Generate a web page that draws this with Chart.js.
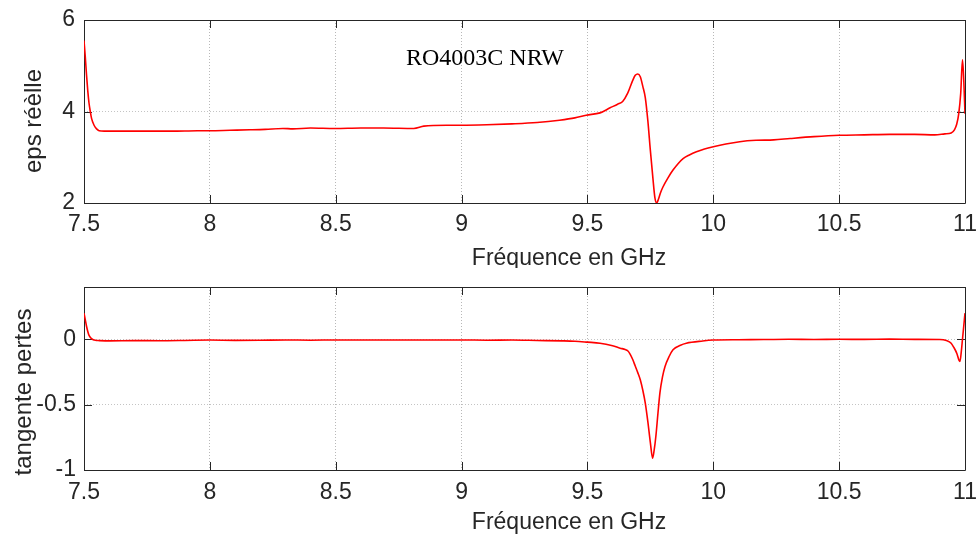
<!DOCTYPE html>
<html><head><meta charset="utf-8">
<script src="https://cdn.jsdelivr.net/npm/chart.js@4.4.1/dist/chart.umd.min.js"></script>
<style>
html,body{margin:0;padding:0;background:#fff;overflow:hidden;width:977px;height:536px}
canvas{display:block;position:absolute;left:0}
</style></head><body>
<canvas id="c1" width="977" height="268" style="top:0px"></canvas>
<canvas id="c2" width="977" height="268" style="top:268px"></canvas>
<script>
// ---- data ----
const freqEps = [7.500,7.505,7.510,7.515,7.520,7.525,7.530,7.540,7.550,7.560,7.580,7.620,7.700,7.760,7.850,7.950,8.000,8.080,8.160,8.220,8.290,8.330,8.400,8.497,8.600,8.690,8.810,8.850,8.940,9.000,9.100,9.200,9.300,9.389,9.450,9.495,9.550,9.590,9.620,9.640,9.660,9.680,9.690,9.700,9.710,9.720,9.730,9.740,9.750,9.760,9.768,9.775,9.782,9.790,9.800,9.820,9.840,9.860,9.880,9.905,9.933,9.965,10.000,10.050,10.105,10.170,10.240,10.305,10.400,10.500,10.600,10.700,10.800,10.880,10.920,10.945,10.958,10.967,10.975,10.983,10.990,10.995,11.000];
const epsReal = [5.55,5.20,4.80,4.45,4.18,4.00,3.85,3.70,3.62,3.58,3.57,3.57,3.57,3.57,3.57,3.58,3.58,3.59,3.60,3.61,3.63,3.62,3.64,3.63,3.64,3.64,3.63,3.68,3.70,3.70,3.71,3.73,3.76,3.81,3.86,3.92,3.97,4.08,4.16,4.22,4.40,4.68,4.79,4.82,4.76,4.55,4.30,3.80,3.15,2.55,2.12,2.00,2.08,2.22,2.35,2.55,2.72,2.86,2.97,3.05,3.12,3.18,3.23,3.29,3.34,3.37,3.38,3.41,3.45,3.48,3.49,3.50,3.50,3.49,3.51,3.53,3.60,3.72,3.95,4.40,5.13,4.70,3.95];

const freqTan = [7.500,7.505,7.510,7.515,7.520,7.530,7.545,7.560,7.600,7.700,7.800,7.900,8.000,8.100,8.200,8.300,8.400,8.500,8.600,8.700,8.800,8.900,9.000,9.100,9.200,9.300,9.400,9.450,9.500,9.550,9.600,9.630,9.650,9.660,9.670,9.680,9.690,9.700,9.710,9.720,9.730,9.740,9.750,9.759,9.765,9.772,9.780,9.788,9.798,9.808,9.825,9.840,9.870,9.893,9.958,10.000,10.100,10.200,10.300,10.400,10.500,10.600,10.700,10.800,10.900,10.926,10.945,10.955,10.968,10.976,10.980,10.985,10.990,10.995,11.000];
const tanLoss = [0.20,0.15,0.10,0.06,0.03,0.005,-0.008,-0.010,-0.012,-0.010,-0.011,-0.009,-0.006,-0.008,-0.007,-0.005,-0.007,-0.005,-0.006,-0.005,-0.006,-0.005,-0.005,-0.007,-0.006,-0.009,-0.012,-0.015,-0.022,-0.030,-0.050,-0.068,-0.078,-0.088,-0.115,-0.155,-0.205,-0.255,-0.310,-0.390,-0.490,-0.630,-0.790,-0.910,-0.850,-0.740,-0.570,-0.410,-0.290,-0.210,-0.130,-0.080,-0.045,-0.030,-0.013,-0.006,-0.003,-0.002,0.000,-0.002,0.000,-0.001,0.001,-0.001,-0.002,-0.010,-0.030,-0.060,-0.110,-0.160,-0.170,-0.100,0.000,0.100,0.200];

const xTicks = [7.5,8,8.5,9,9.5,10,10.5,11];
const epsTicks = [2,4,6];
const tanTicks = [-1,-0.5,0];
const xTitle = 'Fréquence en GHz';
const epsTitle = 'eps réèlle';
const tanTitle = 'tangente pertes';
const noteText = 'RO4003C NRW';

// ---- helpers ----
const SANS = '"Liberation Sans", Arial, Helvetica, sans-serif';
const SERIF = '"Liberation Serif", "Times New Roman", serif';
const AX = '#262626';

function framePlugin() {
  return {
    id: 'frame',
    beforeDatasetsDraw(chart) {
      const ctx = chart.ctx, a = chart.chartArea;
      const xs = chart.scales.x, ys = chart.scales.y;
      ctx.save();
      ctx.strokeStyle = AX;
      ctx.lineWidth = 1;
      ctx.beginPath();
      ctx.rect(Math.round(a.left) + 0.5, Math.round(a.top) + 0.5,
               Math.round(a.right - a.left), Math.round(a.bottom - a.top));
      ctx.stroke();
      const L = 8;
      ctx.beginPath();
      xs.ticks.forEach(t => {
        const px = Math.round(xs.getPixelForValue(t.value)) + 0.5;
        ctx.moveTo(px, a.bottom); ctx.lineTo(px, a.bottom - L);
        ctx.moveTo(px, a.top); ctx.lineTo(px, a.top + L);
      });
      ys.ticks.forEach(t => {
        const py = Math.round(ys.getPixelForValue(t.value)) + 0.5;
        ctx.moveTo(a.left, py); ctx.lineTo(a.left + L, py);
        ctx.moveTo(a.right, py); ctx.lineTo(a.right - L, py);
      });
      ctx.stroke();
      ctx.restore();
    }
  };
}

function textPlugin(cfg) {
  return {
    id: 'texts',
    afterDraw(chart) {
      const ctx = chart.ctx, a = chart.chartArea;
      ctx.save();
      ctx.fillStyle = AX;
      ctx.font = '23px ' + SANS;
      ctx.textAlign = 'center';
      ctx.textBaseline = 'alphabetic';
      ctx.fillText(xTitle, cfg.xTitleX, a.bottom + cfg.xTitleDy);
      ctx.save();
      ctx.font = '24px ' + SANS;
      ctx.translate(cfg.yTitleX, cfg.yTitleY);
      ctx.rotate(-Math.PI / 2);
      ctx.textAlign = 'center';
      ctx.textBaseline = 'alphabetic';
      ctx.fillText(cfg.yTitle, 0, 0);
      ctx.restore();
      if (cfg.note) {
        ctx.fillStyle = '#000';
        ctx.font = '24px ' + SERIF;
        ctx.textAlign = 'center';
        ctx.textBaseline = 'alphabetic';
        ctx.fillText(cfg.note, cfg.noteX, cfg.noteY);
      }
      ctx.restore();
    }
  };
}

function makeChart(id, xsArr, ysArr, yMin, yMax, yTickVals, opts) {
  const pts = xsArr.map((f, i) => ({ x: f, y: ysArr[i] }));
  return new Chart(document.getElementById(id), {
    type: 'line',
    data: { datasets: [{
      data: pts, borderColor: '#ff0000', borderWidth: 1.6, pointRadius: 0,
      cubicInterpolationMode: 'monotone', fill: false
    }]},
    options: {
      responsive: false, animation: false, events: [],
      layout: { padding: { top: opts.padTop, right: 12, left: 0, bottom: 0 } },
      plugins: { legend: { display: false }, tooltip: { enabled: false } },
      scales: {
        x: {
          type: 'linear', min: 7.5, max: 11,
          afterBuildTicks: s => { s.ticks = xTicks.map(v => ({ value: v })); },
          afterFit: s => { s.height = opts.xAxisH; s.paddingLeft = 0; s.paddingRight = 0; },
          ticks: { callback: v => String(v), color: AX, padding: opts.xTickPad,
                   font: { family: SANS, size: 23 }, maxRotation: 0, autoSkip: false },
          grid: { color: '#b8b8b8', lineWidth: 1, drawTicks: false },
          border: { display: false, dash: [1, 2] }
        },
        y: {
          type: 'linear', min: yMin, max: yMax,
          afterBuildTicks: s => { s.ticks = yTickVals.map(v => ({ value: v })); },
          afterFit: s => { s.width = 84; s.paddingTop = 0; s.paddingBottom = 0; },
          ticks: { callback: v => String(v), color: AX, padding: opts.yTickPad,
                   font: { family: SANS, size: 23 } },
          grid: { color: '#c4c4c4', lineWidth: 1, drawTicks: false },
          border: { display: false, dash: [1, 2] }
        }
      }
    },
    plugins: [framePlugin(), textPlugin(opts.text)]
  });
}

makeChart('c1', freqEps, epsReal, 2, 6, epsTicks, {
  padTop: 20, xAxisH: 65, xTickPad: 8, yTickPad: 9,
  text: { xTitleX: 569, xTitleDy: 62, yTitle: epsTitle, yTitleX: 41, yTitleY: 121,
          note: noteText, noteX: 485, noteY: 65 }
});
makeChart('c2', freqTan, tanLoss, -1, 0.4, tanTicks, {
  padTop: 19, xAxisH: 66, xTickPad: 9, yTickPad: 8,
  text: { xTitleX: 569, xTitleDy: 59, yTitle: tanTitle, yTitleX: 31, yTitleY: 124 }
});
</script>
</body></html>
